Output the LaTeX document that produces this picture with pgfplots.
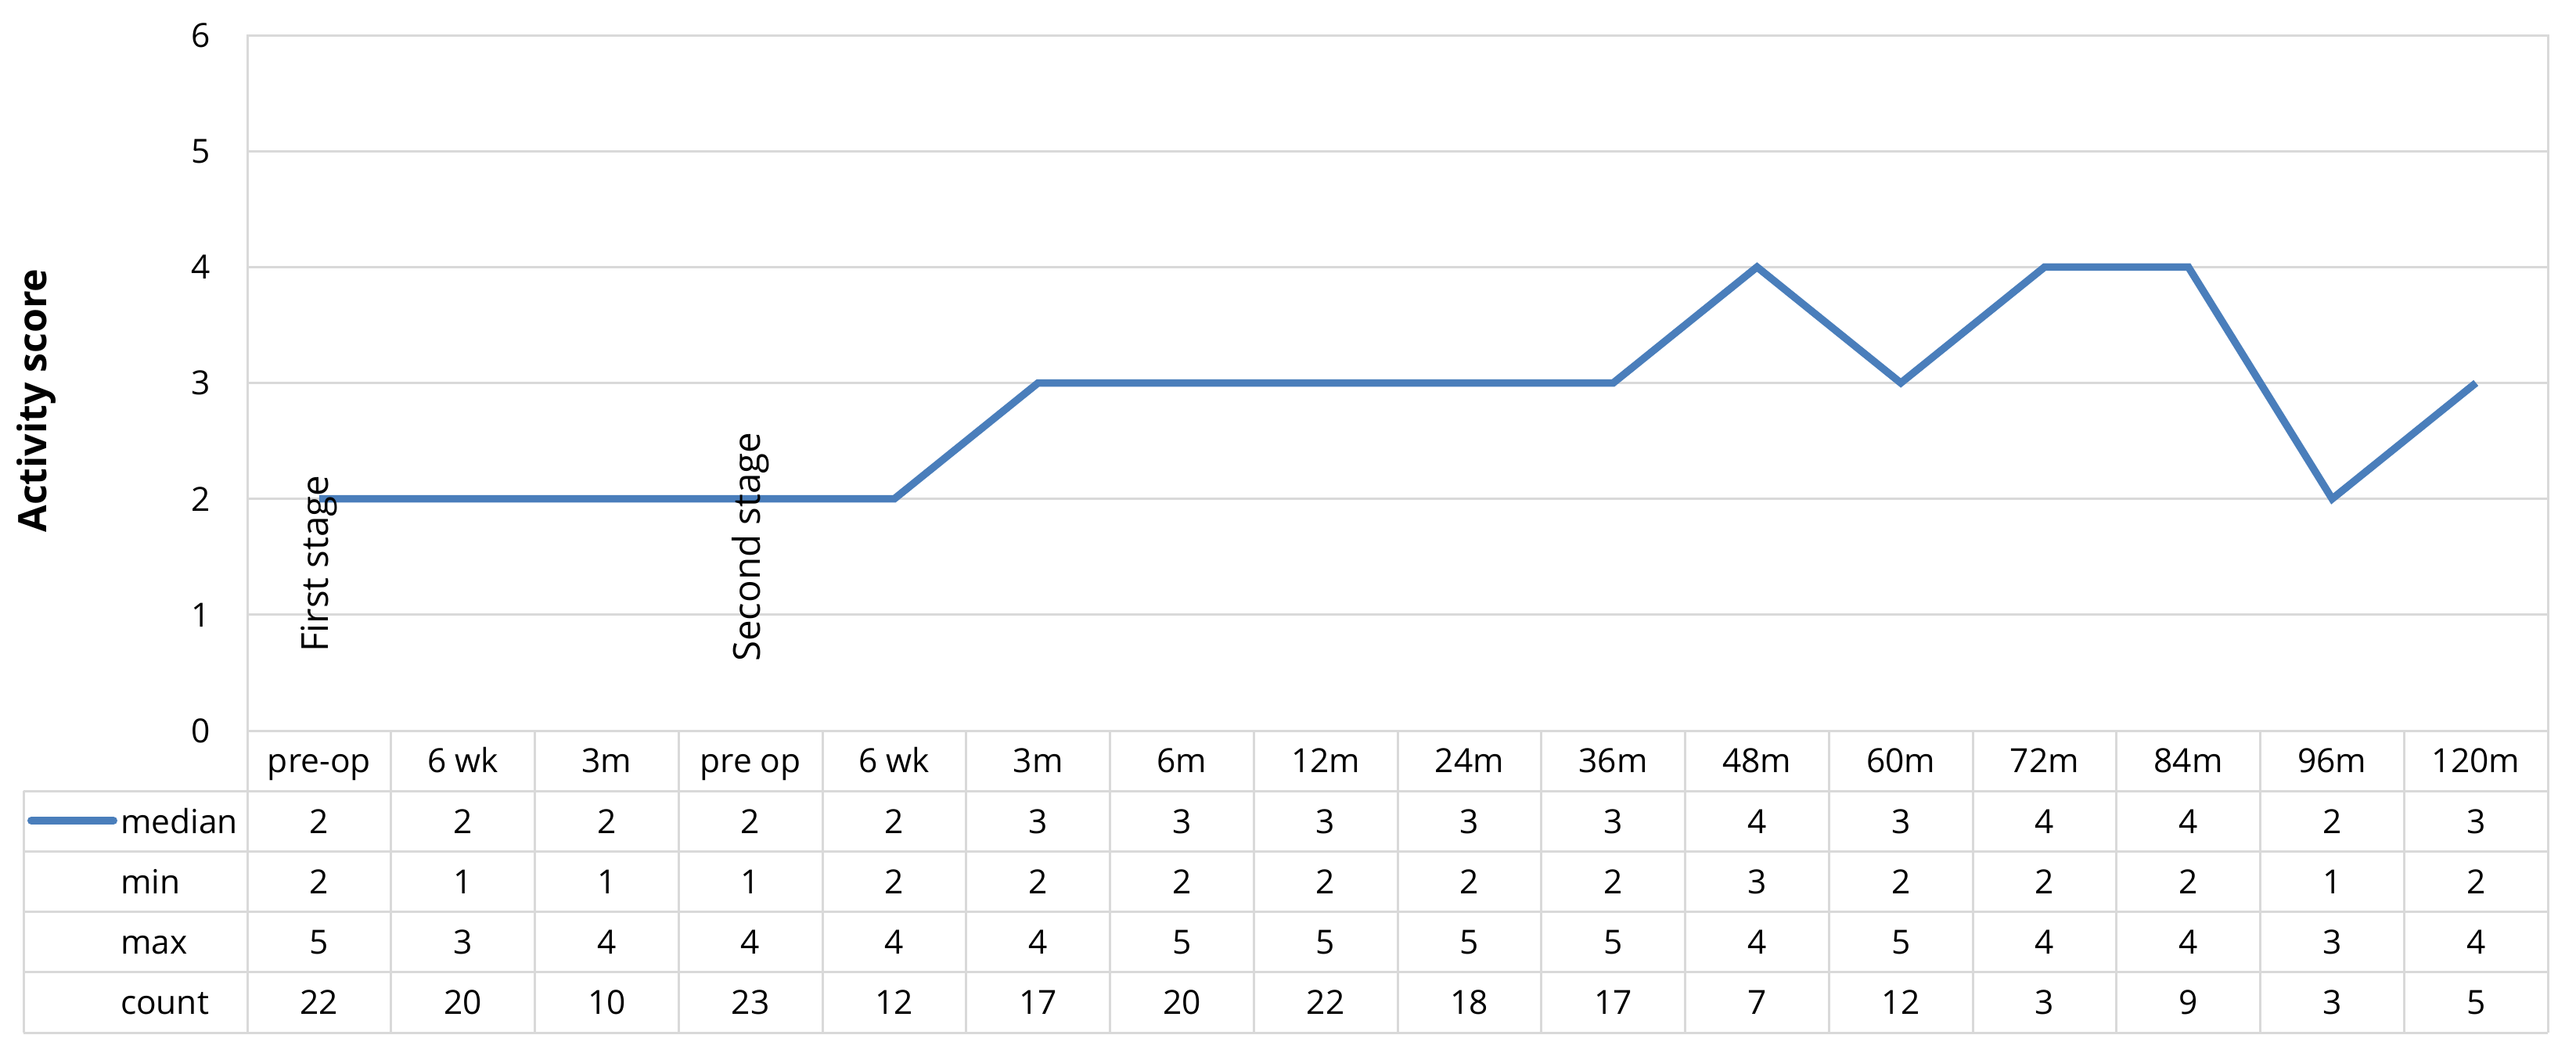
\documentclass[border=0pt]{standalone}
\usepackage{fontspec}
\setmainfont{Open Sans}
\usepackage{pgfplots}
\usepackage{pgfplotstable}
\pgfplotsset{compat=1.18}
\definecolor{medblue}{HTML}{4A7EBB}
\definecolor{gridgray}{HTML}{D9D9D9}

% median activity score per follow-up visit
\pgfplotstableread{
x median
0 2
1 2
2 2
3 2
4 2
5 3
6 3
7 3
8 3
9 3
10 4
11 3
12 4
13 4
14 2
15 3
}\mediantable

\begin{document}
\begin{tikzpicture}[x=1pt,y=1pt]
\useasboundingbox (0,0) rectangle (658.4,270.8);
\begin{axis}[
  at={(63.2pt,84pt)}, anchor=south west,
  scale only axis, width=588pt, height=177.8pt,
  xmin=-0.5, xmax=15.5, ymin=0, ymax=6,
  xtick=\empty, ytick={0,...,6},
  ymajorgrids, grid style={gridgray, line width=0.6pt},
  axis line style={gridgray, line width=0.6pt},
  major tick length=0pt,
  tick label style={font=\fontsize{8.5}{10}\selectfont},
  /pgf/number format/assume math mode=true,
  yticklabel style={inner sep=0pt, xshift=-9.2pt},
  clip=false,
]
\addplot[medblue, line width=1.9pt, no marks] table[x=x, y=median] {\mediantable};
\node[rotate=90, anchor=east, inner sep=0pt, font=\fontsize{9.5}{11}\selectfont] at (axis cs:0,2.21) {First stage};
\node[rotate=90, anchor=east, inner sep=0pt, font=\fontsize{9.5}{11}\selectfont] at (axis cs:3,2.58) {Second stage};
\end{axis}

% y axis title
\node[rotate=90, anchor=base, inner sep=0pt, font=\bfseries\fontsize{10}{12}\selectfont] at (12,168.4) {Activity score};

% data table under the plot
\begin{scope}[gridgray, line width=0.6pt]
  \foreach \k in {0,...,16} \draw (63.2+\k*36.75,84) -- (63.2+\k*36.75,6.8);
  \foreach \yy in {68.56,53.12,37.68,22.24,6.8} \draw (6,\yy) -- (651.2,\yy);
  \draw (6,68.56) -- (6,6.8);
\end{scope}
\begin{scope}[font=\fontsize{8.5}{10}\selectfont]
  \foreach \lab [count=\i from 0] in {pre-op,6 wk,3m,pre op,6 wk,3m,6m,12m,24m,36m,48m,60m,72m,84m,96m,120m}
    \node[anchor=base, inner sep=0pt] at ({63.2+(\i+0.5)*36.75},73.3) {\lab};
  \foreach \v [count=\i from 0] in {2,2,2,2,2,3,3,3,3,3,4,3,4,4,2,3}
    \node[anchor=base, inner sep=0pt] at ({63.2+(\i+0.5)*36.75},57.8) {\v};
  \foreach \v [count=\i from 0] in {2,1,1,1,2,2,2,2,2,2,3,2,2,2,1,2}
    \node[anchor=base, inner sep=0pt] at ({63.2+(\i+0.5)*36.75},42.4) {\v};
  \foreach \v [count=\i from 0] in {5,3,4,4,4,4,5,5,5,5,4,5,4,4,3,4}
    \node[anchor=base, inner sep=0pt] at ({63.2+(\i+0.5)*36.75},27.0) {\v};
  \foreach \v [count=\i from 0] in {22,20,10,23,12,17,20,22,18,17,7,12,3,9,3,5}
    \node[anchor=base, inner sep=0pt] at ({63.2+(\i+0.5)*36.75},11.5) {\v};
  \draw[medblue, line width=2pt, line cap=round] (8,61) -- (29,61);
  \node[anchor=base west, inner sep=0pt] at (30.6,57.8) {median};
  \node[anchor=base west, inner sep=0pt] at (30.6,42.4) {min};
  \node[anchor=base west, inner sep=0pt] at (30.6,27.0) {max};
  \node[anchor=base west, inner sep=0pt] at (30.6,11.5) {count};
\end{scope}
\end{tikzpicture}
\end{document}
